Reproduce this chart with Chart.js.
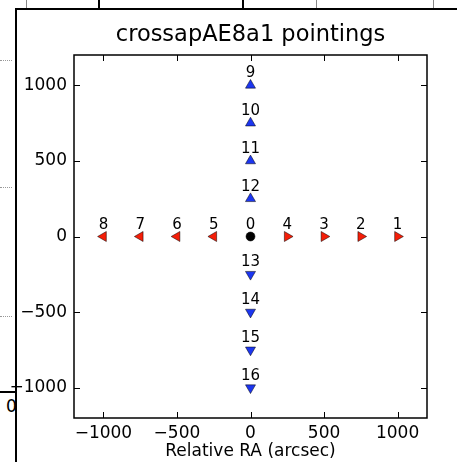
<!DOCTYPE html>
<html>
<head>
<meta charset="utf-8">
<script src="https://cdn.jsdelivr.net/npm/chart.js@4/dist/chart.umd.min.js"></script>
<style>
  html, body { margin: 0; padding: 0; background: #fff; }
  #wrap { position: relative; width: 457px; height: 462px; overflow: hidden; }
  #chart { position: absolute; left: 0; top: 0; z-index: 2; }
  .frame { position: absolute; background: #000; z-index: 1; }
  .dots { position: absolute; left: 0; width: 12px; height: 0; border-top: 1px dotted #999; z-index: 1; }
  #stub { position: absolute; left: 6px; top: 396px; width: 10px; overflow: hidden;
          font: 17px "DejaVu Sans", sans-serif; color: #000; z-index: 1; line-height: 20px; }
</style>
</head>
<body>
<div id="wrap">
  <!-- window frame behind the figure -->
  <div class="frame" style="left:15px; top:8px; width:2px; height:454px;"></div>
  <div class="frame" style="left:15px; top:8px; width:442px; height:2px;"></div>
  <div class="frame" style="left:26px; top:0; width:1px; height:8px; background:#888;"></div>
  <div class="frame" style="left:98px; top:0; width:2px; height:8px;"></div>
  <div class="frame" style="left:242px; top:0; width:2px; height:8px;"></div>
  <div class="frame" style="left:316px; top:0; width:1px; height:8px; background:#888;"></div>
  <div class="frame" style="left:433px; top:0; width:1px; height:8px; background:#888;"></div>
  <div class="frame" style="left:0; top:391px; width:16px; height:2px;"></div>
  <div class="dots" style="top:60px;"></div>
  <div class="dots" style="top:187px;"></div>
  <div class="dots" style="top:316px;"></div>
  <div id="stub">0</div>
  <canvas id="chart" width="457" height="462"></canvas>
</div>
<script>
// Pointing names and their offsets from the field centre (arcsec)
const pointNames = ['0', '1', '2', '3', '4', '5', '6', '7', '8',
                    '9', '10', '11', '12', '13', '14', '15', '16'];
const raOffsets  = [0, 1000, 750, 500, 250, -250, -500, -750, -1000,
                    0, 0, 0, 0, 0, 0, 0, 0];
const decOffsets = [0, 0, 0, 0, 0, 0, 0, 0, 0,
                    1000, 750, 500, 250, -250, -500, -750, -1000];

// Which marker group each pointing belongs to
const groups = ['centre', 'east', 'east', 'east', 'east', 'west', 'west', 'west', 'west',
                'north', 'north', 'north', 'north', 'south', 'south', 'south', 'south'];

const tickValues = [-1000, -500, 0, 500, 1000];
const axisMin = -1200;
const axisMax = 1200;

const groupStyle = {
  centre: { style: 'circle',   rotation: 0,   color: '#000000', radius: 4.5 },
  east:   { style: 'triangle', rotation: 90,  color: '#f41e08', radius: 5.8 },
  west:   { style: 'triangle', rotation: -90, color: '#f41e08', radius: 5.8 },
  north:  { style: 'triangle', rotation: 0,   color: '#1c36f0', radius: 5.8 },
  south:  { style: 'triangle', rotation: 180, color: '#1c36f0', radius: 5.8 }
};

const datasets = Object.keys(groupStyle).map(g => {
  const s = groupStyle[g];
  const pts = [];
  pointNames.forEach((n, i) => {
    if (groups[i] === g) pts.push({ x: raOffsets[i], y: decOffsets[i], name: n });
  });
  return {
    label: g,
    data: pts,
    pointStyle: s.style,
    rotation: s.rotation,
    pointRadius: s.radius,
    pointHoverRadius: s.radius,
    backgroundColor: s.color,
    borderColor: '#000',
    borderWidth: 0.5
  };
});

const FONT = '"DejaVu Sans", sans-serif';

function fmt(v) {
  return v < 0 ? '\u2212' + Math.abs(v) : String(v);
}

// Frame, inward ticks on all four sides, and pointing labels
const decorations = {
  id: 'decorations',
  afterDatasetsDraw(chart) {
    const { ctx, chartArea: a, scales } = chart;
    ctx.save();
    ctx.strokeStyle = '#000';
    ctx.lineWidth = 1;
    const tl = 6;
    ctx.beginPath();
    scales.x.ticks.forEach(t => {
      const px = Math.round(scales.x.getPixelForValue(t.value)) + 0.5;
      ctx.moveTo(px, a.bottom); ctx.lineTo(px, a.bottom - tl);
      ctx.moveTo(px, a.top);    ctx.lineTo(px, a.top + tl);
    });
    scales.y.ticks.forEach(t => {
      const py = Math.round(scales.y.getPixelForValue(t.value)) + 0.5;
      ctx.moveTo(a.left, py);  ctx.lineTo(a.left + tl, py);
      ctx.moveTo(a.right, py); ctx.lineTo(a.right - tl, py);
    });
    ctx.stroke();
    ctx.lineWidth = 1.5;
    ctx.strokeRect(a.left, a.top, a.right - a.left, a.bottom - a.top);

    ctx.fillStyle = '#000';
    ctx.font = '15px ' + FONT;
    ctx.textAlign = 'center';
    ctx.textBaseline = 'alphabetic';
    chart.data.datasets.forEach((ds, di) => {
      const meta = chart.getDatasetMeta(di);
      meta.data.forEach((el, j) => {
        ctx.fillText(ds.data[j].name, el.x, el.y - 8);
      });
    });
    ctx.restore();
  }
};

new Chart(document.getElementById('chart'), {
  type: 'scatter',
  data: { datasets },
  plugins: [decorations],
  options: {
    responsive: false,
    animation: false,
    events: [],
    layout: { padding: { left: 0, right: 30, top: 0, bottom: 0 } },
    plugins: {
      legend: { display: false },
      tooltip: { enabled: false },
      title: {
        display: true,
        text: 'crossapAE8a1 pointings',
        fullSize: false,
        color: '#000',
        font: { family: FONT, size: 22.5, weight: 'normal', lineHeight: 1.2 },
        padding: { top: 21.5, bottom: 6.5 }
      }
    },
    scales: {
      x: {
        type: 'linear',
        min: axisMin,
        max: axisMax,
        afterBuildTicks: s => { s.ticks = tickValues.map(v => ({ value: v })); },
        afterFit: s => { s.height = 44; },
        grid: { display: false, drawTicks: false },
        border: { display: false },
        ticks: {
          color: '#000',
          padding: 5,
          maxRotation: 0,
          font: { family: FONT, size: 17 },
          callback: v => fmt(v)
        },
        title: {
          display: true,
          text: 'Relative RA (arcsec)',
          color: '#000',
          font: { family: FONT, size: 17, lineHeight: 1.2 },
          padding: { top: 0, bottom: 0 }
        }
      },
      y: {
        type: 'linear',
        min: axisMin,
        max: axisMax,
        afterBuildTicks: s => { s.ticks = tickValues.map(v => ({ value: v })); },
        afterFit: s => { s.width = 74; },
        grid: { display: false, drawTicks: false },
        border: { display: false },
        ticks: {
          color: '#000',
          padding: 7,
          font: { family: FONT, size: 17 },
          callback: v => fmt(v)
        }
      }
    }
  }
});
</script>
</body>
</html>
